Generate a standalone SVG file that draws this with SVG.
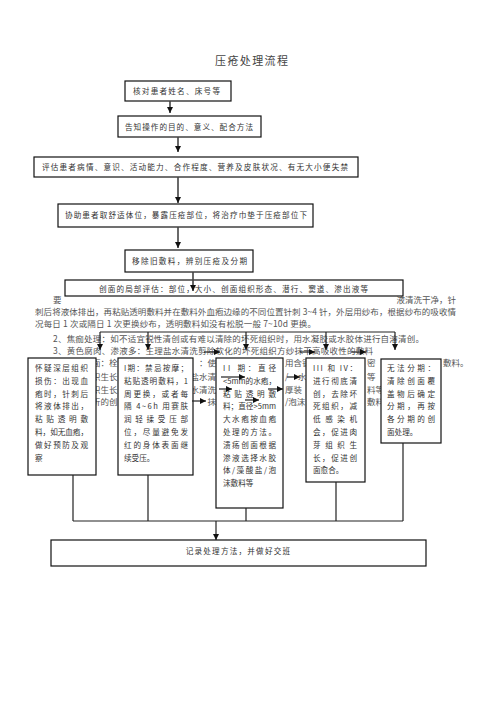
<svg xmlns="http://www.w3.org/2000/svg" width="496" height="702" viewBox="0 0 496 702">
<defs>
<marker id="ah" markerUnits="userSpaceOnUse" markerWidth="7" markerHeight="6" refX="6" refY="3" orient="auto">
<path d="M0,0 L6,3 L0,6 z" fill="#111"/>
</marker>
<style>
.box{fill:#fff;stroke:#111;stroke-width:1.2}
.t{font-family:"Noto Sans CJK SC","Noto Sans",sans-serif;font-size:7.6px;fill:#333}
.bg{font-family:"Noto Sans CJK SC","Noto Sans",sans-serif;font-size:8.5px;fill:#555}
.title{font-family:"Noto Sans CJK SC","Noto Sans",sans-serif;font-size:11px;fill:#444;letter-spacing:1.4px}
.c{fill:none;stroke:#222;stroke-width:1.2}
.ct{fill:none;stroke:#444;stroke-width:1.6}
</style>
</defs>
<rect width="496" height="702" fill="#fff"/>
<text class="title" x="215" y="65">压疮处理流程</text>

<!-- background explanatory text -->
<g id="notes">
<text class="bg" x="53" y="303">要</text>
<text class="bg" x="456" y="303" text-anchor="end">液清洗干净，针</text>
<text class="bg" x="35" y="314.5" textLength="421" lengthAdjust="spacing">刺后将液体排出，再粘贴透明敷料并在敷料外血疱边缘的不同位置针刺 3~4 针，外层用纱布，根据纱布的吸收情</text>
<text class="bg" x="35" y="326.5" textLength="281" lengthAdjust="spacing">况每日 1 次或隔日 1 次更换纱布，透明敷料如没有松脱一般 7~10d 更换。</text>
<text class="bg" x="53" y="341.5" textLength="371" lengthAdjust="spacing">2、焦痂处理：如不适宜锐性清创或有难以清除的坏死组织时，用水凝胶或水胶体进行自溶清创。</text>
<text class="bg" x="53" y="354" textLength="320" lengthAdjust="spacing">3、黄色腐肉、渗液多：生理盐水清洗剪除软化的坏死组织方纱抹干高吸收性的敷料</text>
<text class="bg" x="117.5" y="366" text-anchor="end">面：栓</text>
<text class="bg" x="117.5" y="380" text-anchor="end">织生长</text>
<text class="bg" x="117.5" y="392.5" text-anchor="end">织生长</text>
<text class="bg" x="117.5" y="405" text-anchor="end">折的创</text>
<text class="bg" x="216" y="366" text-anchor="end">：使</text>
<text class="bg" x="216" y="380" text-anchor="end">盐水清</text>
<text class="bg" x="216" y="392.5" text-anchor="end">水清洗</text>
<text class="bg" x="216" y="405" text-anchor="end">抹</text>
<text class="bg" x="285" y="366">用含银</text>
<text class="bg" x="285" y="380">/</text>
<text class="bg" x="298" y="380">水</text>
<text class="bg" x="285" y="392.5">厚装</text>
<text class="bg" x="285" y="405">/泡沫</text>
<text class="bg" x="367" y="366">密</text>
<text class="bg" x="367" y="380">等</text>
<text class="bg" x="367" y="392.5">料等</text>
<text class="bg" x="367" y="405">敷料</text>
<text class="bg" x="443" y="366">敷料。</text>
</g>

<g id="n1"><rect class="box" x="125" y="81" width="106" height="20"/>
<text class="t" x="133" y="94" textLength="87" lengthAdjust="spacing">核对患者姓名、床号等</text></g>
<g id="n2"><rect class="box" x="118" y="116" width="143" height="21"/>
<text class="t" x="125" y="130" textLength="128" lengthAdjust="spacing">告知操作的目的、意义、配合方法</text></g>
<g id="n3"><rect class="box" x="34" y="157" width="324" height="20"/>
<text class="t" x="42" y="170" textLength="306" lengthAdjust="spacing">评估患者病情、意识、活动能力、合作程度、营养及皮肤状况、有无大小便失禁</text></g>
<g id="n4"><rect class="box" x="58" y="204" width="255" height="23"/>
<text class="t" x="65" y="217.5" textLength="242" lengthAdjust="spacing">协助患者取舒适体位，暴露压疮部位，将治疗巾垫于压疮部位下</text></g>
<g id="n5"><rect class="box" x="125" y="250" width="128" height="22"/>
<text class="t" x="132" y="264" textLength="115" lengthAdjust="spacing">移除旧敷料，辨别压疮及分期</text></g>
<g id="n6"><rect class="box" x="65" y="280" width="338" height="16"/>
<text class="t" x="99" y="292" textLength="269" lengthAdjust="spacing">创面的局部评估：部位，大小、创面组织形态、潜行、窦道、渗出液等</text></g>

<g id="nA"><rect class="box" x="28" y="358" width="68" height="117"/>
<text class="t" x="35" y="371" textLength="53" lengthAdjust="spacing">怀疑深层组织</text>
<text class="t" x="35" y="383.8" textLength="53" lengthAdjust="spacing">损伤：出现血</text>
<text class="t" x="35" y="396.6" textLength="53" lengthAdjust="spacing">疱时，针刺后</text>
<text class="t" x="35" y="409.4" textLength="53" lengthAdjust="spacing">将液体排出，</text>
<text class="t" x="35" y="422.2" textLength="53" lengthAdjust="spacing">粘贴透明敷</text>
<text class="t" x="35" y="435" textLength="53" lengthAdjust="spacing">料，如无血疱，</text>
<text class="t" x="35" y="447.8" textLength="53" lengthAdjust="spacing">做好预防及观</text>
<text class="t" x="35" y="460.6">察</text></g>

<g id="nB"><rect class="box" x="118" y="358" width="75" height="117"/>
<text class="t" x="124" y="371" textLength="64" lengthAdjust="spacing">I期：禁忌按摩；</text>
<text class="t" x="124" y="383.8" textLength="64" lengthAdjust="spacing">粘贴透明敷料，1</text>
<text class="t" x="124" y="396.6" textLength="64" lengthAdjust="spacing">周更换，或者每</text>
<text class="t" x="124" y="409.4" textLength="64" lengthAdjust="spacing">隔 4~6h 用赛肤</text>
<text class="t" x="124" y="422.2" textLength="64" lengthAdjust="spacing">润轻揉受压部</text>
<text class="t" x="124" y="435" textLength="64" lengthAdjust="spacing">位，尽量避免发</text>
<text class="t" x="124" y="447.8" textLength="64" lengthAdjust="spacing">红的身体表面继</text>
<text class="t" x="124" y="460.6">续受压。</text></g>

<g id="nC"><rect class="box" x="216" y="358" width="67" height="150"/>
<text class="t" x="223" y="371" textLength="53" lengthAdjust="spacing">II 期：直径</text>
<text class="t" x="223" y="383.8" textLength="53" lengthAdjust="spacing">&lt;5mm的水疱，</text>
<text class="t" x="223" y="396.6" textLength="53" lengthAdjust="spacing">粘贴透明敷</text>
<text class="t" x="223" y="409.4" textLength="53" lengthAdjust="spacing">料；直径&gt;5mm</text>
<text class="t" x="223" y="422.2" textLength="53" lengthAdjust="spacing">大水疱按血疱</text>
<text class="t" x="223" y="435" textLength="53" lengthAdjust="spacing">处理的方法。</text>
<text class="t" x="223" y="447.8" textLength="53" lengthAdjust="spacing">溃疡创面根据</text>
<text class="t" x="223" y="460.6" textLength="53" lengthAdjust="spacing">渗液选择水胶</text>
<text class="t" x="223" y="473.4" textLength="53" lengthAdjust="spacing">体/藻酸盐/泡</text>
<text class="t" x="223" y="486.2">沫敷料等</text></g>

<g id="nD"><rect class="box" x="306" y="358" width="59" height="124"/>
<text class="t" x="313" y="371" textLength="44" lengthAdjust="spacing">III 和 IV：</text>
<text class="t" x="313" y="383.8" textLength="44" lengthAdjust="spacing">进行彻底清</text>
<text class="t" x="313" y="396.6" textLength="44" lengthAdjust="spacing">创，去除坏</text>
<text class="t" x="313" y="409.4" textLength="44" lengthAdjust="spacing">死组织，减</text>
<text class="t" x="313" y="422.2" textLength="44" lengthAdjust="spacing">低感染机</text>
<text class="t" x="313" y="435" textLength="44" lengthAdjust="spacing">会，促进肉</text>
<text class="t" x="313" y="447.8" textLength="44" lengthAdjust="spacing">芽组织生</text>
<text class="t" x="313" y="460.6" textLength="44" lengthAdjust="spacing">长，促进创</text>
<text class="t" x="313" y="473.4">面愈合。</text></g>

<g id="nE"><rect class="box" x="381" y="359" width="60" height="84"/>
<text class="t" x="387" y="371" textLength="48" lengthAdjust="spacing">无法分期：</text>
<text class="t" x="387" y="383.8" textLength="48" lengthAdjust="spacing">清除创面覆</text>
<text class="t" x="387" y="396.6" textLength="48" lengthAdjust="spacing">盖物后确定</text>
<text class="t" x="387" y="409.4" textLength="48" lengthAdjust="spacing">分期，再按</text>
<text class="t" x="387" y="422.2" textLength="48" lengthAdjust="spacing">各分期的创</text>
<text class="t" x="387" y="435">面处理。</text></g>

<g id="n7"><rect class="box" x="51" y="540" width="375" height="26"/>
<text class="t" x="238.5" y="553.5" text-anchor="middle" letter-spacing="1.2">记录处理方法，并做好交班</text></g>

<g id="connectors">
<line class="ct" x1="170" y1="101" x2="170" y2="113" marker-end="url(#ah)"/>
<line class="ct" x1="178" y1="137" x2="178" y2="152" marker-end="url(#ah)"/>
<line class="ct" x1="178" y1="177" x2="178" y2="203" marker-end="url(#ah)"/>
<line class="ct" x1="178" y1="227" x2="178" y2="248" marker-end="url(#ah)"/>
<line class="ct" x1="193" y1="272" x2="193" y2="291" marker-end="url(#ah)"/>
<path class="c" d="M100,332 H395"/>
<line class="c" x1="100" y1="332" x2="100" y2="350" marker-end="url(#ah)"/>
<line class="c" x1="148" y1="332" x2="148" y2="350" marker-end="url(#ah)"/>
<line class="c" x1="246" y1="332" x2="246" y2="350" marker-end="url(#ah)"/>
<line class="c" x1="326" y1="332" x2="326" y2="350" marker-end="url(#ah)"/>
<line class="c" x1="395" y1="332" x2="395" y2="350" marker-end="url(#ah)"/>
<line class="c" x1="204" y1="352" x2="220" y2="352" marker-end="url(#ah)"/>
<line class="c" x1="300" y1="352" x2="315" y2="352" marker-end="url(#ah)"/>
<line class="c" x1="351" y1="352" x2="366" y2="352" marker-end="url(#ah)"/>
<line class="c" x1="221" y1="377" x2="245" y2="377" marker-end="url(#ah)"/>
<line class="c" x1="287" y1="377" x2="300" y2="377" marker-end="url(#ah)"/>
<line class="c" x1="219" y1="389" x2="232" y2="389" marker-end="url(#ah)"/>
<line class="c" x1="268" y1="389" x2="283" y2="389" marker-end="url(#ah)"/>
<line class="c" x1="192" y1="401" x2="206" y2="401" marker-end="url(#ah)"/>
<line class="c" x1="245" y1="400" x2="259" y2="400" marker-end="url(#ah)"/>
<path class="c" d="M73,475 V521 M148,475 V521 M246,508 V521 M336,482 V521 M403,443 V521 M73,521 H403"/>
<line class="c" x1="216" y1="521" x2="216" y2="540" marker-end="url(#ah)"/>
</g>
</svg>
